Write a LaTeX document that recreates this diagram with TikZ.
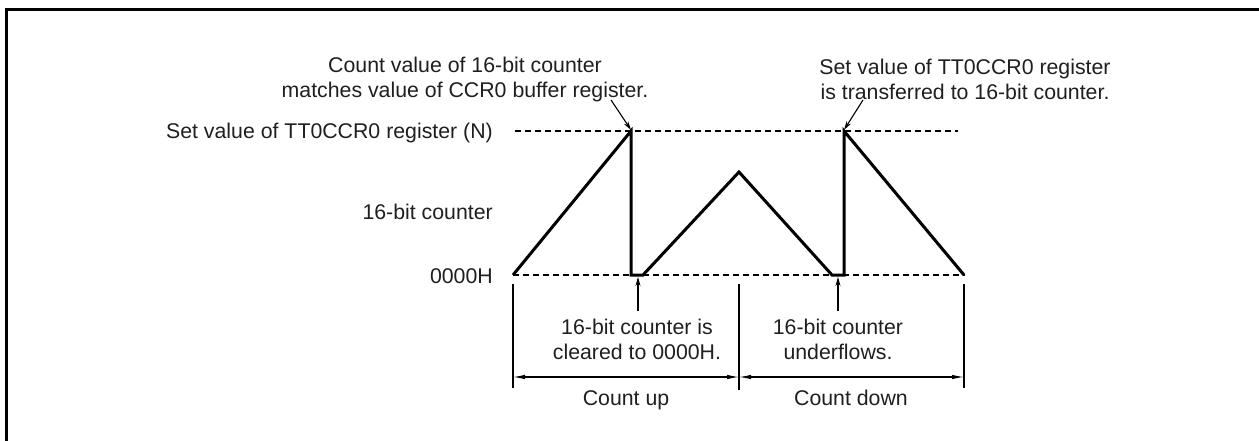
\documentclass[tikz,border=0pt]{standalone}
\usepackage{fontspec}
\setmainfont{Liberation Sans}
\usetikzlibrary{arrows.meta}
\begin{document}
\begin{tikzpicture}[x=1pt,y=-1pt,
 lbl/.style={inner sep=0pt, font=\fontsize{21.3}{25}\selectfont, text=black!88},
 wave/.style={line width=3pt, line join=miter},
 guide/.style={line width=1.3pt, dash pattern=on 6pt off 4pt},
 thinln/.style={line width=1.1pt},
 ptr/.style={thinln, -{Stealth[length=9pt,width=5pt]}},
 dim/.style={thinln, {Latex[length=12pt,width=4.5pt]}-{Latex[length=12pt,width=4.5pt]}},
 framel/.style={line width=3pt}]
\useasboundingbox (0,0) rectangle (1259,441);
% frame
\coordinate (fr1) at (1265,9.5);
\coordinate (fr2) at (6,9.5);
\coordinate (fr3) at (6,447);
\draw[framel] (fr1) -- (fr2) -- (fr3);
% guide lines
\coordinate (tL) at (515,131);
\coordinate (tR) at (958,131);
\coordinate (bL) at (513,275);
\coordinate (bR) at (965,275);
\draw[guide] (tL) -- (tR);
\draw[guide] (bL) -- (bR);
% waveform
\coordinate (s) at (513,275);
\coordinate (p1) at (631,131);
\coordinate (c1) at (631,275);
\coordinate (c2) at (643,275);
\coordinate (m) at (739,172);
\coordinate (u1) at (832,275);
\coordinate (u2) at (844,275);
\coordinate (p2) at (844,131);
\coordinate (e) at (964,275);
\draw[wave] (s) -- (p1) -- (c1) -- (c2) -- (m) -- (u1) -- (u2) -- (p2) -- (e);
% extension lines
\coordinate (x1a) at (513,284); \coordinate (x1b) at (513,388);
\coordinate (x2a) at (739,284); \coordinate (x2b) at (739,390);
\coordinate (x3a) at (964,284); \coordinate (x3b) at (964,388);
\draw[thinln] (x1a) -- (x1b);
\draw[thinln] (x2a) -- (x2b);
\draw[thinln] (x3a) -- (x3b);
% dimension arrows
\coordinate (d1) at (513,377); \coordinate (d2) at (739,377); \coordinate (d3) at (964,377);
\draw[dim] (d1) -- (d2);
\draw[dim] (d2) -- (d3);
% pointers
\coordinate (a1s) at (638,311); \coordinate (a1e) at (638,277);
\coordinate (a2s) at (838,311); \coordinate (a2e) at (838,277);
\coordinate (a3s) at (611,100); \coordinate (a3e) at (631,130);
\coordinate (a4s) at (863,100); \coordinate (a4e) at (844,130);
\draw[ptr] (a1s) -- (a1e);
\draw[ptr] (a2s) -- (a2e);
\draw[ptr] (a3s) -- (a3e);
\draw[ptr] (a4s) -- (a4e);
% labels
\node[lbl, anchor=base east] (ln) at (493,139) {Set value of TT0CCR0 register (N)};
\node[lbl, anchor=base east] (lc) at (493,219) {16-bit counter};
\node[lbl, anchor=base east] (lz) at (493,283) {0000H};
\node[lbl, align=center] (tl) at (465,79) {Count value of 16-bit counter\\matches value of CCR0 buffer register.};
\node[lbl, align=center] (tr) at (965,79) {Set value of TT0CCR0 register\\is transferred to 16-bit counter.};
\node[lbl, align=center] (bl) at (637,339) {16-bit counter is\\cleared to 0000H.};
\node[lbl, align=center] (br) at (838,339) {16-bit counter\\underflows.};
\node[lbl, anchor=base] (cu) at (626,405) {Count up};
\node[lbl, anchor=base] (cd) at (851,405) {Count down};
\end{tikzpicture}
\end{document}
